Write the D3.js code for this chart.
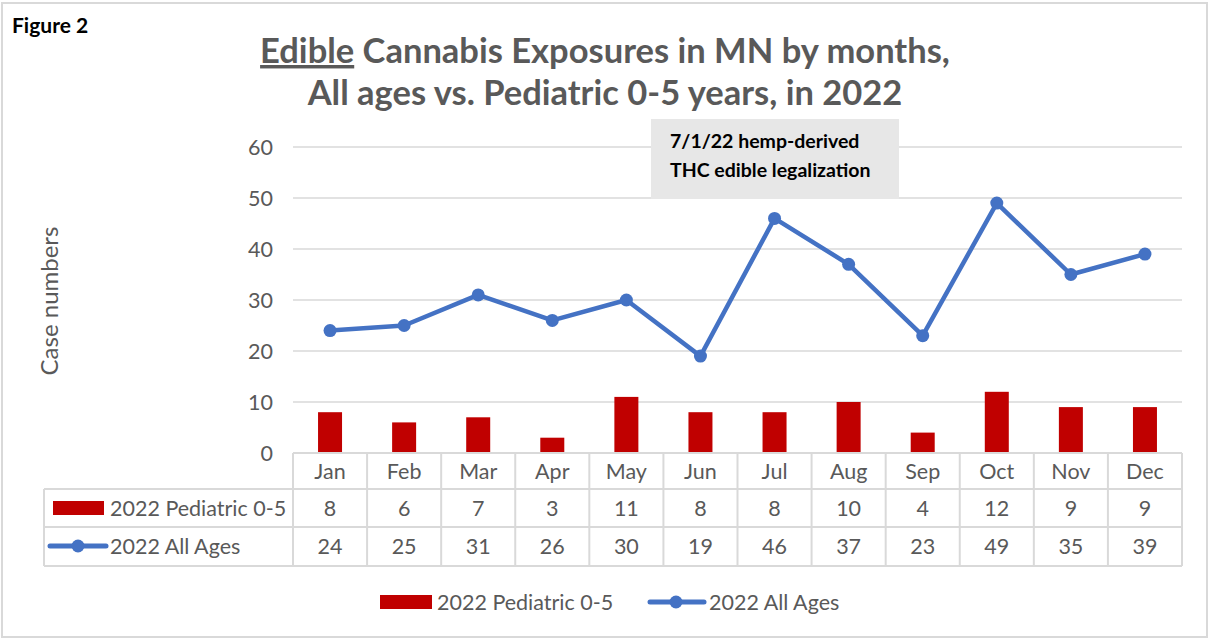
<!DOCTYPE html>
<html>
<head>
<meta charset="utf-8">
<script src="https://cdn.jsdelivr.net/npm/d3@7"></script>
<style>
  body { margin: 0; background: #fff; }
  svg { font-family: Lato, "Open Sans", sans-serif; }
</style>
</head>
<body>
<div id="chart"></div>
<script>
// data
var months = ["Jan", "Feb", "Mar", "Apr", "May", "Jun", "Jul", "Aug", "Sep", "Oct", "Nov", "Dec"];
var pediatric = [8, 6, 7, 3, 11, 8, 8, 10, 4, 12, 9, 9];
var allAges = [24, 25, 31, 26, 30, 19, 46, 37, 23, 49, 35, 39];
var yTicks = [0, 10, 20, 30, 40, 50, 60];
var pedName = "2022 Pediatric 0-5";
var allName = "2022 All Ages";

var W = 1210, H = 640;
var red = "#c00000", blue = "#4472c4", grey = "#595959", gridC = "#d9d9d9";
var fs = 21.5;

var svg = d3.select("#chart").append("svg")
  .attr("width", W).attr("height", H);

// outer frame
svg.append("rect").attr("x", 2).attr("y", 3).attr("width", 1205).attr("height", 634)
  .attr("fill", "#fff").attr("stroke", "#d9d9d9").attr("stroke-width", 2);

svg.append("text").attr("x", 12).attr("y", 33)
  .attr("font-size", 21).attr("font-weight", "bold").attr("fill", "#000")
  .text("Figure 2");

// title
var title = svg.append("g").attr("font-size", 34.5).attr("font-weight", "bold")
  .attr("fill", grey).attr("text-anchor", "middle");
var t1 = title.append("text").attr("x", 605).attr("y", 63);
t1.append("tspan").attr("text-decoration", "underline").text("Edible");
t1.append("tspan").text(" Cannabis Exposures in MN by months,");
title.append("text").attr("x", 605).attr("y", 105)
  .text("All ages vs. Pediatric 0-5 years, in 2022");

var plotL = 293, plotR = 1182, plotT = 147, plotB = 453;

var x = d3.scaleBand().domain(months).range([plotL, plotR]);
var y = d3.scaleLinear().domain([0, 60]).range([plotB, plotT]);

// grid
svg.append("g").selectAll("line").data(yTicks).enter().append("line")
  .attr("x1", plotL).attr("x2", plotR)
  .attr("y1", function(d){ return y(d); }).attr("y2", function(d){ return y(d); })
  .attr("stroke", gridC).attr("stroke-width", 1.3);

// y axis
var yAxis = d3.axisLeft(y).tickValues(yTicks).tickSize(0).tickPadding(20);
var ya = svg.append("g").attr("transform", "translate(" + plotL + ",0)").call(yAxis);
ya.select(".domain").remove();
ya.selectAll("text").attr("font-size", fs).attr("fill", grey)
  .attr("font-family", "Lato, sans-serif").attr("dy", "0.35em");

svg.append("text")
  .attr("transform", "translate(58,301) rotate(-90)")
  .attr("text-anchor", "middle").attr("font-size", 24).attr("fill", grey)
  .text("Case numbers");

// annotation box
svg.append("rect").attr("x", 651).attr("y", 119).attr("width", 248).attr("height", 80)
  .attr("fill", "#e7e7e7");
svg.append("text").attr("x", 670).attr("y", 148).attr("font-size", 19.5)
  .attr("font-weight", "bold").attr("fill", "#000").text("7/1/22 hemp-derived");
svg.append("text").attr("x", 670).attr("y", 177).attr("font-size", 19.5)
  .attr("font-weight", "bold").attr("fill", "#000").text("THC edible legalization");

// bars
var barW = 24;
svg.append("g").selectAll("rect").data(pediatric).enter().append("rect")
  .attr("x", function(d, i){ return x(months[i]) + x.bandwidth() / 2 - barW / 2; })
  .attr("y", function(d){ return y(d); })
  .attr("width", barW)
  .attr("height", function(d){ return y(0) - y(d); })
  .attr("fill", red);

// line
var line = d3.line()
  .x(function(d, i){ return x(months[i]) + x.bandwidth() / 2; })
  .y(function(d){ return y(d); });
svg.append("path").datum(allAges).attr("d", line)
  .attr("fill", "none").attr("stroke", blue).attr("stroke-width", 4.5)
  .attr("stroke-linejoin", "round");
svg.append("g").selectAll("circle").data(allAges).enter().append("circle")
  .attr("cx", function(d, i){ return x(months[i]) + x.bandwidth() / 2; })
  .attr("cy", function(d){ return y(d); })
  .attr("r", 6.5).attr("fill", blue);

// data table
var rowY = [453, 489, 527, 566];
var tableLeft = 44;
var tbl = svg.append("g").attr("stroke", gridC).attr("stroke-width", 2);
tbl.append("line").attr("x1", plotL).attr("x2", plotR).attr("y1", rowY[0]).attr("y2", rowY[0]);
[1, 2, 3].forEach(function(k){
  tbl.append("line").attr("x1", tableLeft).attr("x2", plotR).attr("y1", rowY[k]).attr("y2", rowY[k]);
});
months.forEach(function(m){
  tbl.append("line").attr("x1", x(m)).attr("x2", x(m)).attr("y1", rowY[0]).attr("y2", rowY[3]);
});
tbl.append("line").attr("x1", plotR).attr("x2", plotR).attr("y1", rowY[0]).attr("y2", rowY[3]);
tbl.append("line").attr("x1", tableLeft).attr("x2", tableLeft).attr("y1", rowY[1]).attr("y2", rowY[3]);

var cellText = function(vals, r){
  svg.append("g").selectAll("text").data(vals).enter().append("text")
    .attr("x", function(d, i){ return x(months[i]) + x.bandwidth() / 2; })
    .attr("y", (rowY[r] + rowY[r + 1]) / 2)
    .attr("dy", "0.36em")
    .attr("text-anchor", "middle").attr("font-size", fs).attr("fill", grey)
    .text(function(d){ return d; });
};
cellText(months, 0);
cellText(pediatric, 1);
cellText(allAges, 2);

// table row keys
svg.append("rect").attr("x", 53).attr("y", 501).attr("width", 51).attr("height", 14).attr("fill", red);
svg.append("text").attr("x", 110).attr("y", 508).attr("dy", "0.36em")
  .attr("font-size", fs).attr("fill", grey).text(pedName);
svg.append("line").attr("x1", 50).attr("x2", 106).attr("y1", 546).attr("y2", 546)
  .attr("stroke", blue).attr("stroke-width", 5).attr("stroke-linecap", "round");
svg.append("circle").attr("cx", 78).attr("cy", 546).attr("r", 6.5).attr("fill", blue);
svg.append("text").attr("x", 110).attr("y", 546).attr("dy", "0.36em")
  .attr("font-size", fs).attr("fill", grey).text(allName);

// bottom legend
svg.append("rect").attr("x", 380).attr("y", 595).attr("width", 52).attr("height", 14).attr("fill", red);
svg.append("text").attr("x", 437).attr("y", 602).attr("dy", "0.36em")
  .attr("font-size", fs).attr("fill", grey).text(pedName);
svg.append("line").attr("x1", 650).attr("x2", 704).attr("y1", 602).attr("y2", 602)
  .attr("stroke", blue).attr("stroke-width", 5).attr("stroke-linecap", "round");
svg.append("circle").attr("cx", 676).attr("cy", 602).attr("r", 6.5).attr("fill", blue);
svg.append("text").attr("x", 709).attr("y", 602).attr("dy", "0.36em")
  .attr("font-size", fs).attr("fill", grey).text(allName);
</script>
</body>
</html>
